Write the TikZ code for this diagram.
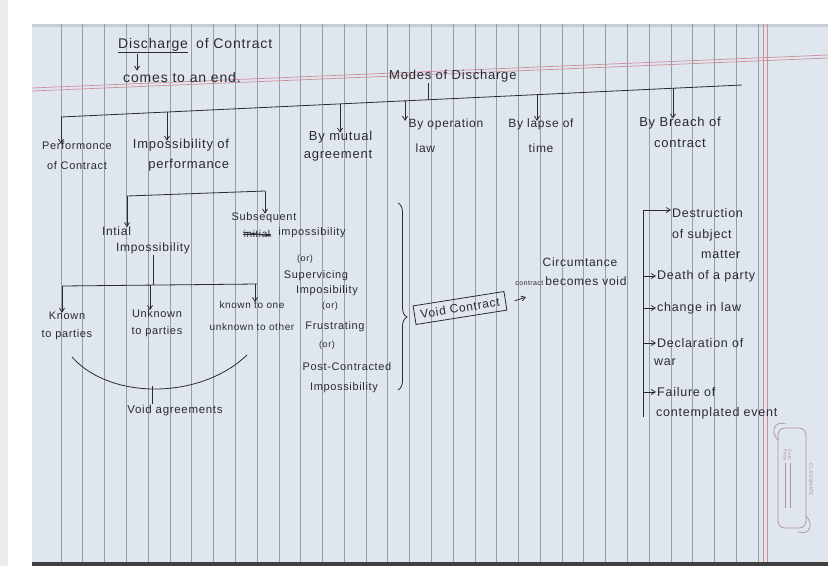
\documentclass[tikz,border=0pt]{standalone}
\usepackage{fontspec}
\newfontfamily\hand[LetterSpace=6]{Liberation Sans}
\usetikzlibrary{arrows.meta,decorations.pathreplacing,calc}
\definecolor{paper}{RGB}{224,230,238}
\definecolor{ink}{RGB}{42,42,48}
\definecolor{rulec}{RGB}{150,156,168}
\definecolor{redl}{RGB}{206,140,152}
\definecolor{stampc}{RGB}{175,140,165}
\definecolor{edgec}{RGB}{200,204,212}
\begin{document}
\begin{tikzpicture}[x=1pt,y=-1pt,
  hw/.style={font=\hand\fontsize{#1}{20}\selectfont, text=ink, inner sep=1pt},
  line/.style={draw=ink, line width=0.8pt},
  arr/.style={line, -{Straight Barb[length=4pt,width=5pt]}},
  rulel/.style={draw=rulec, line width=0.6pt},
  redrule/.style={draw=redl, line width=0.7pt},
  stampline/.style={draw=stampc, line width=0.7pt},
  stamptext/.style={font=\hand\fontsize{4.5}{5}\selectfont, text=stampc, inner sep=0pt, rotate=-90}]
% ---------- page ----------
\useasboundingbox (0,0) rectangle (828,566);
\fill[white] (0,0) rectangle (828,566);
\fill[black!8] (0,0) rectangle (8,566);
\fill[paper] (32,24) rectangle (828,562);
\fill[edgec] (32,24) rectangle (828,27);
\fill[black!75] (32,562) rectangle (828,566);
\foreach \i in {0,...,32} \draw[rulel] ({61+21.78*\i},24) -- ({61+21.78*\i},562);
\draw[redrule] (32,88) -- (828,55);
\draw[redrule] (32,91) -- (828,58);
\draw[redrule] (763,24) -- (763,562);
\draw[redrule] (767,24) -- (767,562);
% ---------- heading ----------
\node[hw=14, anchor=base west] (dis) at (117,48) {\underline{Discharge}};
\node[hw=14, anchor=base west] (ofc) at (195,48) {of Contract};
\node[hw=14, anchor=base west] (end) at (122,82) {comes to an end.};
\draw[arr] ([xshift=20pt]dis.south west) -- ([xshift=15pt]end.north west);
\node[hw=13, anchor=base west] (modes) at (388,79) {Modes of Discharge};
% ---------- main bus ----------
\coordinate (bL) at (61,117);
\coordinate (bR) at (742,85);
\coordinate (bm) at (428,99.8);
\coordinate (b1) at (61,117);
\coordinate (b2) at (167,112);
\coordinate (b3) at (340,103.9);
\coordinate (b4) at (405,100.8);
\coordinate (b5) at (537,94.6);
\coordinate (b6) at (673,88.2);
\draw[line] (bL) -- (bR);
\draw[line] (modes.south -| bm) -- (bm);
\node[hw=11, align=center] (perf) at (77,156) {Performonce\\of Contract};
\node[hw=13, align=right] (imp) at (181,155) {Impossibility of\\performance};
\node[hw=13, align=right] (mut) at (338,146) {By mutual\\[-2pt]agreement};
\node[hw=12, align=left] (op) at (446,136) {By operation\\[5pt]\hspace*{7pt}law};
\node[hw=12, align=center] (lapse) at (541,136) {By lapse of\\[5pt]time};
\node[hw=13, align=center] (breach) at (680,132) {By Breach of\\[1pt]contract};
\draw[arr] (b1) -- ([yshift=-3pt]b1 |- perf.north);
\draw[arr] (b2) -- ([yshift=-3pt]b2 |- imp.north);
\draw[arr] (b3) -- ([yshift=-3pt]b3 |- mut.north);
\draw[arr] (b4) -- ([yshift=-3pt]b4 |- op.north);
\draw[arr] (b5) -- ([yshift=-3pt]b5 |- lapse.north);
\draw[arr] (b6) -- ([yshift=-3pt]b6 |- breach.north);
% ---------- impossibility branch ----------
\coordinate (sL) at (127,196);
\coordinate (sR) at (265,191);
\draw[line] (sL) -- (sR);
\node[hw=12, align=left] (init) at (146,240) {Intial\\[-4pt]\hspace*{14pt}Impossibility};
\node[hw=11] (sub1) at (264,218) {Subsequent};
\draw[arr] (sL) -- ([yshift=-2pt]sL |- init.north);
\draw[arr] (sR) -- ([yshift=-2pt]sR |- sub1.north);
\node[hw=10] (strk) at (257,234) {initial};
\draw[line] (strk.west) -- (strk.east);
\draw[line] ([yshift=2pt]strk.west) -- ([yshift=-2pt]strk.east);
\node[hw=11] (sub2) at (312,233) {impossibility};
\node[hw=9] (sub3) at (305,259) {(or)};
\node[hw=11] (sub4) at (316,276) {Supervicing};
\node[hw=11] (sub5) at (327,291) {Imposibility};
\node[hw=9] (sub6) at (330,306) {(or)};
\node[hw=11] (sub7) at (335,327) {Frustrating};
\node[hw=9] (sub8) at (327,345) {(or)};
\node[hw=11] (sub9) at (347,367) {Post-Contracted};
\node[hw=11] (sub10) at (344,388) {Impossibility};
% ---------- initial impossibility ----------
\coordinate (k0) at (153,285);
\coordinate (kL) at (62,286);
\coordinate (kR) at (257,284);
\coordinate (kA) at (62,286);
\coordinate (kB) at (150,285);
\coordinate (kC) at (255,284);
\draw[line] (init.south -| k0) -- (k0);
\draw[line] (kL) -- (kR);
\node[hw=11, align=center] (k1) at (67,326) {Known\\[-2pt]to parties};
\node[hw=11, align=center] (k2) at (157,323) {Unknown\\[-3pt]to parties};
\node[hw=10, align=center] (k3) at (252,316) {known to one\\[2pt]unknown to other};
\draw[arr] (kA) -- ([yshift=-2pt]kA |- k1.north);
\draw[arr] (kB) -- ([yshift=-2pt]kB |- k2.north);
\draw[arr] (kC) -- ([yshift=-2pt]kC |- k3.north);
\coordinate (aL) at (72,357);
\coordinate (aR) at (247,355);
\coordinate (aM) at (152,386);
\draw[line] (aL) .. controls (110,400) and (200,400) .. (aR);
\node[hw=11.5] (va) at (175,411) {Void agreements};
\draw[line] (aM) -- (aM |- va.north);
% ---------- void contract ----------
\draw[line, decorate, decoration={brace, amplitude=9pt, aspect=0.61}] (398,203) -- (398,390);
\node[hw=12, draw=ink, line width=0.8pt, rotate=9, inner xsep=6pt, inner ysep=5pt] (voidc) at (460,308) {Void Contract};
\coordinate (vca) at (526,297);
\draw[arr] ([xshift=9pt]voidc.east) -- (vca);
\node[hw=12] (circ) at (580,262) {Circumtance};
\node[hw=12] (cbv) at (571,281) {{\fontsize{7}{8}\selectfont contract}\,becomes void};
% ---------- breach list ----------
\coordinate (vT) at (643,210);
\coordinate (vB) at (643,417);
\draw[line] (vT) -- (vB);
\node[hw=12.5, anchor=west] (d1a) at (671,213) {Destruction};
\node[hw=12.5, anchor=west] (d1b) at (671,235) {of subject};
\node[hw=12.5, anchor=west] (d1c) at (700,255) {matter};
\node[hw=12.5, anchor=west] (d2) at (656,276) {Death of a party};
\node[hw=12.5, anchor=west] (d3) at (656,308) {change in law};
\node[hw=12.5, anchor=west] (d4a) at (656,343) {Declaration of};
\node[hw=12.5, anchor=west] (d4b) at (653,362) {war};
\node[hw=12.5, anchor=west] (d5a) at (656,392) {Failure of};
\node[hw=12.5, anchor=west] (d5b) at (655,413) {contemplated event};
\draw[arr] (vT) -- (vT -| d1a.west);
\draw[arr] (vT |- d2.west) -- (d2.west);
\draw[arr] (vT |- d3.west) -- (d3.west);
\draw[arr] (vT |- d4a.west) -- (d4a.west);
\draw[arr] (vT |- d5a.west) -- (d5a.west);
% ---------- stamp ----------
\draw[stampline, rounded corners=7pt] (778,428) rectangle (806,528);
\draw[stampline] (778,440) .. controls (770,432) and (774,420) .. (786,424);
\draw[stampline] (806,516) .. controls (814,524) and (810,536) .. (798,532);
\node[stamptext] (sdate) at (790,455) {Date};
\node[stamptext] (spage) at (785,455) {Page};
\draw[stampline, line width=0.4pt] (790,463) -- (790,508);
\draw[stampline, line width=0.4pt] (785,463) -- (785,508);
\node[stamptext, font=\hand\fontsize{5}{6}\selectfont] (sbrand) at (811,480) {CLASSMATE};
\end{tikzpicture}
\end{document}
